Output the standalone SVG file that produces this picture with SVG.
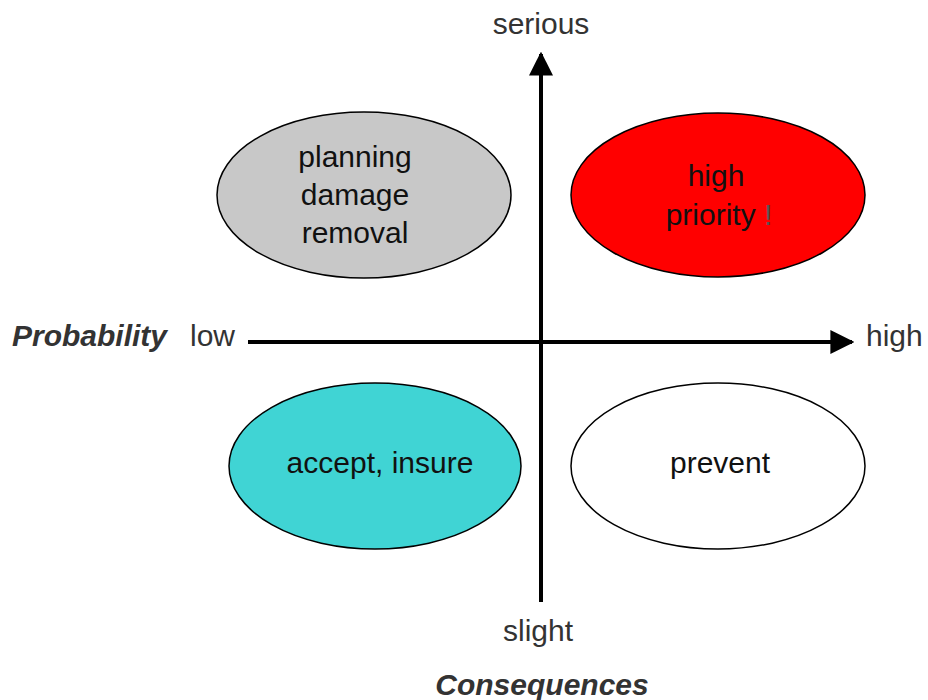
<svg xmlns="http://www.w3.org/2000/svg" width="928" height="700" viewBox="0 0 928 700">
  <style>
    .lbl { font-family: "Liberation Sans", Arial, sans-serif; font-size: 30px; fill: #333333; }
    .axis-title { font-family: "Liberation Sans", Arial, sans-serif; font-size: 30px; font-weight: bold; font-style: italic; fill: #333333; }
    .node-text { font-family: "Liberation Sans", Arial, sans-serif; font-size: 30px; fill: #111111; text-anchor: middle; }
    .node-shape { stroke: #000000; stroke-width: 1.5; }
    .axis { stroke: #000000; stroke-width: 4; fill: none; }
  </style>
  <defs>
    <marker id="arrow" viewBox="0 0 10 10" refX="9" refY="5" markerWidth="6" markerHeight="6" markerUnits="strokeWidth" orient="auto">
      <path d="M0,0 L10,5 L0,10 z" fill="#000000"/>
    </marker>
  </defs>

  <rect width="928" height="700" fill="#ffffff"/>

  <!-- axes -->
  <g id="connectors">
    <line class="axis" x1="541" y1="602" x2="541" y2="54" marker-end="url(#arrow)"/>
    <line class="axis" x1="248" y1="342" x2="852" y2="342" marker-end="url(#arrow)"/>
  </g>

  <!-- axis labels -->
  <g id="axis-labels">
    <text class="lbl" x="541" y="34" text-anchor="middle">serious</text>
    <text class="lbl" x="538" y="641" text-anchor="middle">slight</text>
    <text class="axis-title" x="542" y="695" text-anchor="middle">Consequences</text>
    <text class="axis-title" x="12" y="346">Probability</text>
    <text class="lbl" x="190" y="346">low</text>
    <text class="lbl" x="866" y="346">high</text>
  </g>

  <g id="planning">
    <ellipse class="node-shape" cx="364" cy="195" rx="147" ry="83" fill="#c8c8c8"/>
    <text class="node-text" x="355" y="167">planning</text>
    <text class="node-text" x="355" y="205">damage</text>
    <text class="node-text" x="355" y="243">removal</text>
  </g>

  <g id="high-priority">
    <ellipse class="node-shape" cx="718" cy="195" rx="147" ry="82" fill="#ff0000"/>
    <text class="node-text" x="716" y="186">high</text>
    <text class="node-text" x="719" y="225">priority <tspan fill="#555555">!</tspan></text>
  </g>

  <g id="accept">
    <ellipse class="node-shape" cx="375" cy="466" rx="146" ry="83" fill="#40d4d4"/>
    <text class="node-text" x="380" y="473">accept, insure</text>
  </g>

  <g id="prevent">
    <ellipse class="node-shape" cx="718" cy="466" rx="147" ry="83" fill="#ffffff"/>
    <text class="node-text" x="720" y="473">prevent</text>
  </g>
</svg>
